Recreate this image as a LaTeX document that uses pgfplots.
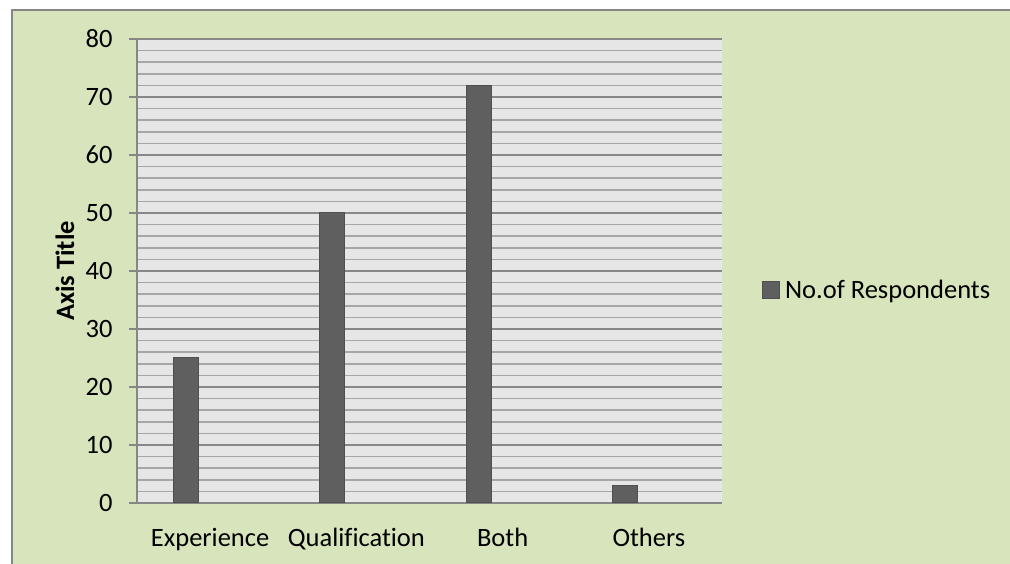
\documentclass[border=0pt]{standalone}
\usepackage{fontspec}
\setmainfont{Carlito}[Ligatures=NoCommon]
\usepackage{pgfplots}
\pgfplotsset{compat=1.18}
\definecolor{bggreen}{HTML}{D8E4BC}
\definecolor{plotgray}{HTML}{E6E6E6}
\definecolor{minorgrid}{HTML}{A6A6A6}
\definecolor{majorgrid}{HTML}{878787}
\definecolor{barfill}{HTML}{5F5F5F}
\definecolor{baredge}{HTML}{4F4F4F}
\begin{document}
\begin{tikzpicture}[x=1pt,y=1pt]
\useasboundingbox (0,0) rectangle (1010,564);
\fill[white] (0,0) rectangle (1010,564);
\fill[bggreen] (12,0) rectangle (1010,554);
\draw[majorgrid, line width=2pt] (12,0) -- (12,554) -- (1010,554);
\begin{axis}[
  at={(137pt,61pt)}, anchor=south west,
  scale only axis, width=585pt, height=464pt,
  xmin=-0.5, xmax=3.5, ymin=0, ymax=80,
  ytick={0,10,...,80}, minor y tick num=4,
  xtick={0,1,2,3}, xticklabels={Experience,Qualification,Both,Others},
  axis background/.style={fill=plotgray},
  ymajorgrids, yminorgrids,
  major grid style={majorgrid, line width=1.5pt},
  minor grid style={minorgrid, line width=1.5pt},
  axis lines*=left,
  axis line style={majorgrid, line width=1.5pt},
  tick align=outside,
  major tick length=8pt, minor tick length=0pt,
  xtick style={draw=none},
  ytick style={majorgrid, line width=1.5pt},
  tick label style={font=\fontsize{26.5}{30}\selectfont},
  yticklabel style={xshift=-13pt},
  xticklabel style={yshift=-14pt},
  /pgf/number format/assume math mode=true,
  ylabel={\bfseries Axis Title},
  every axis y label/.style={at={(rel axis cs:-0.123,0.5)}, rotate=90, anchor=center, font=\fontsize{26.5}{30}\selectfont},
  legend style={at={(1.063,0.46)}, anchor=west, draw=none, fill=none, font=\fontsize{26.5}{30}\selectfont},
  legend cell align=left,
]
\addplot[ybar, bar width=0.171, bar shift=-0.164, fill=barfill, draw=baredge, line width=1pt,
  legend image code/.code={\draw[fill=barfill, draw=baredge, line width=1pt] (0pt,-8.5pt) rectangle (17pt,8.5pt); \path (20pt,0pt);}]
  coordinates {(0,25) (1,50) (2,72) (3,3)};
\addlegendentry{No.of Respondents}
\end{axis}
\end{tikzpicture}
\end{document}
